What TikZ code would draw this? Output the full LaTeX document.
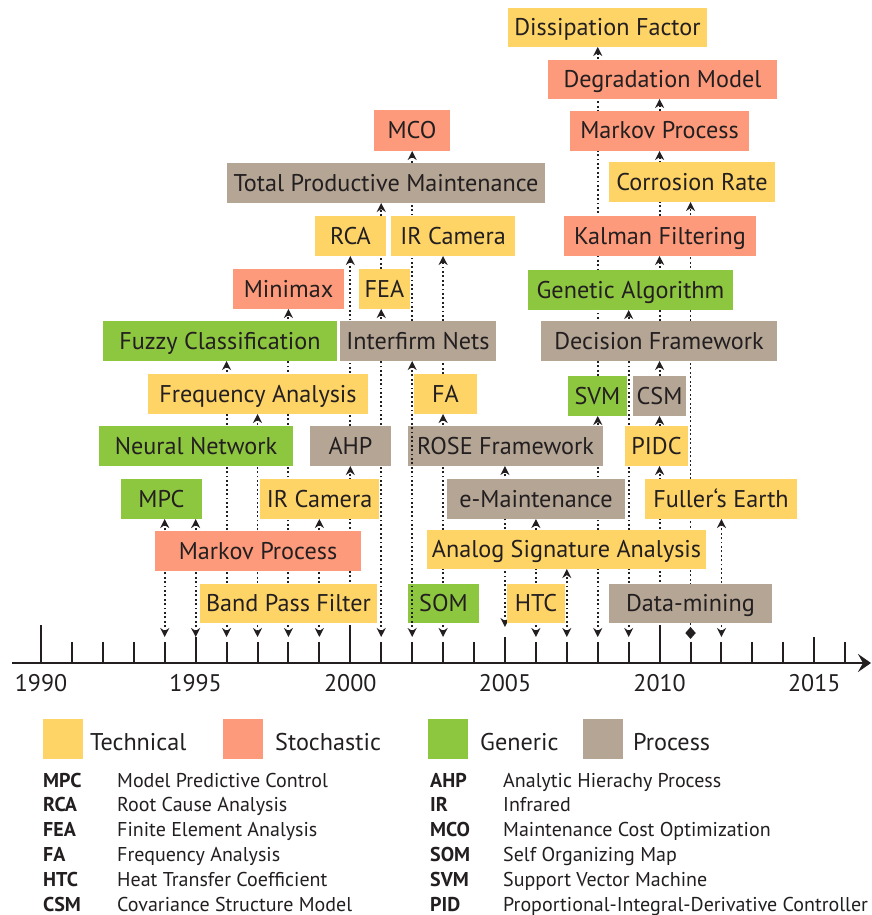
\documentclass[tikz,border=0pt]{standalone}
\usepackage{fontspec}
\setmainfont{PT Sans}
\usetikzlibrary{arrows.meta}
\definecolor{yel}{HTML}{FED467}
\definecolor{sal}{HTML}{FD9A7B}
\definecolor{grn}{HTML}{8DC63F}
\definecolor{prc}{HTML}{B4A594}
\definecolor{txt}{HTML}{231F20}
\tikzset{
  box/.style={inner sep=0pt, outer sep=0pt, text=txt,
    font=\fontsize{24.2}{27}\selectfont, text height=16pt, text depth=0pt},
  conn/.style={draw=txt, line width=1.9pt, dash pattern=on 1.9pt off 2.5pt},
  dconn/.style={conn, {Stealth[length=9pt,width=9pt]}-{Stealth[length=9pt,width=9pt]}},
  uconn/.style={conn, -{Stealth[length=9pt,width=9pt]}},
  tickline/.style={draw=txt, line width=2pt},
  yearlab/.style={text=txt, font=\fontsize{24}{27}\selectfont, anchor=base, inner sep=0pt},
  legtext/.style={text=txt, font=\fontsize{24.2}{27}\selectfont, anchor=base west, inner sep=0pt},
  legsq/.style={minimum width=40pt, minimum height=40pt, inner sep=0pt},
  abbr/.style={text=txt, font=\fontsize{20}{22}\selectfont\bfseries, anchor=base west, inner sep=0pt},
  desc/.style={text=txt, font=\fontsize{20}{22}\selectfont, anchor=base west, inner sep=0pt},
}
\newcommand\mkbox[7]{\node[box, fill=#2, minimum width={#5-#3}, minimum height={#6-#4}] (#1) at ({(#3+#5)/2},{(#4+#6)/2}) {#7};}
\begin{document}
\begin{tikzpicture}[x=1pt,y=-1pt]
\useasboundingbox (0,0) rectangle (872,915);
\fill[white] (0,0) rectangle (872,915);
% year coordinates
\foreach \yr in {1990,...,2016}{
  \pgfmathsetmacro\xx{41+(\yr-1990)*30.93}
  \coordinate (t\yr) at (\xx,663);
  \coordinate (a\yr) at (\xx,637);
}
\coordinate (b2005) at (504.95,627);
\coordinate (d2011) at (690.53,639);
% ticks
\foreach \yr in {1990,...,2016}{
  \pgfmathtruncatemacro\tmm{mod(\yr,10)}
  \pgfmathtruncatemacro\tff{mod(\yr,5)}
  \ifnum\tmm=0 \def\tky{625}\else\ifnum\tff=0 \def\tky{637}\else\def\tky{642}\fi\fi
  \draw[tickline] (t\yr) -- ++(0,{\tky-663});
}
\coordinate (axs) at (12,663);
\coordinate (axe) at (871,663);
\draw[draw=txt, line width=2.6pt, -{Stealth[length=13pt,width=18pt,inset=5pt]}] (axs) -- (axe);
% year labels
\foreach \yr in {1990,1995,2000,2005,2010,2015}{
  \node[yearlab] at ([yshift=-28pt]t\yr) {\yr};
}
% box positions (invisible, used by connectors)
\begin{scope}[opacity=0]
\mkbox{df}{yel}{508}{8}{707}{47}{}
\mkbox{dm}{sal}{548}{60}{777}{99}{}
\mkbox{mp2}{sal}{570}{111}{749}{151}{}
\mkbox{cr}{yel}{609}{162}{775}{202}{}
\mkbox{kf}{sal}{564}{216}{756}{256}{}
\mkbox{mco}{sal}{374}{110}{450}{151}{}
\mkbox{tpm}{prc}{227}{163}{545}{203}{}
\mkbox{rca}{yel}{315}{216}{386}{256}{}
\mkbox{irc2}{yel}{391}{216}{515}{256}{}
\mkbox{mmx}{sal}{233}{269}{344}{309}{}
\mkbox{fea}{yel}{359}{269}{410}{309}{}
\mkbox{fuz}{grn}{103}{321}{337}{361}{}
\mkbox{ifn}{prc}{340}{321}{496}{361}{}
\mkbox{frq}{yel}{148}{374}{368}{414}{}
\mkbox{fa}{yel}{414}{374}{477}{414}{}
\mkbox{ga}{grn}{528}{270}{733}{310}{}
\mkbox{dfw}{prc}{541}{321}{777}{361}{}
\mkbox{svm}{grn}{568}{376}{627}{416}{}
\mkbox{csm}{prc}{633}{376}{686}{416}{}
\mkbox{nn}{grn}{99}{426}{293}{466}{}
\mkbox{ahp}{prc}{310}{426}{391}{466}{}
\mkbox{rose}{prc}{408}{426}{603}{466}{}
\mkbox{pidc}{yel}{625}{426}{688}{466}{}
\mkbox{mpc}{grn}{121}{479}{202}{519}{}
\mkbox{irc}{yel}{260}{479}{379}{519}{}
\mkbox{emt}{prc}{447}{479}{625}{519}{}
\mkbox{fe}{yel}{645}{479}{797}{519}{}
\mkbox{mp}{sal}{155}{531}{361}{571}{}
\mkbox{asa}{yel}{427}{530}{706}{569}{}
\mkbox{bpf}{yel}{200}{584}{377}{623}{}
\mkbox{som}{grn}{408}{584}{479}{623}{}
\mkbox{htc}{yel}{507}{584}{565}{623}{}
\mkbox{dmn}{prc}{609}{584}{772}{623}{}
\end{scope}
% connectors
\draw[dconn] (a1994) -- (a1994 |- mpc.south);
\draw[dconn] (a1995) -- (a1995 |- mpc.south);
\draw[dconn] (a1996) -- (a1996 |- fuz.south);
\draw[dconn] (a1997) -- (a1997 |- frq.south);
\draw[dconn] (a1998) -- (a1998 |- mmx.south);
\draw[dconn] (a1999) -- (a1999 |- irc.south);
\draw[uconn] (a2000 |- bpf.center) -- (a2000 |- ahp.south);
\draw[uconn] (a2000 |- ahp.north) -- (a2000 |- rca.south);
\draw[dconn] (a2001) -- (a2001 |- fea.south);
\draw[uconn] (a2001 |- fea.north) -- (a2001 |- tpm.south);
\draw[uconn] (a2002 |- ifn.north) -- (a2002 |- mco.south);
\draw[dconn] (a2003) -- (a2003 |- fa.south);
\draw[uconn] (a2003 |- fa.north) -- (a2003 |- irc2.south);
\draw[dconn] (b2005) -- (b2005 |- rose.south);
\draw[dconn] (a2006) -- (a2006 |- emt.south);
\draw[dconn] (a2007) -- (a2007 |- asa.south);
\draw[dconn] (a2008) -- (a2008 |- svm.south);
\draw[uconn] (a2008 |- svm.north) -- (a2008 |- df.south);
\draw[dconn] (a2009) -- (a2009 |- ga.south);
\draw[uconn] (a2010 |- dmn.center) -- (a2010 |- pidc.south);
\draw[uconn] (a2010 |- pidc.north) -- (a2010 |- csm.south);
\draw[uconn] (a2010 |- csm.north) -- (a2010 |- dfw.south);
\draw[uconn] (a2010 |- dfw.north) -- (a2010 |- kf.south);
\draw[uconn] (a2010 |- kf.north) -- (a2010 |- mp2.south);
\draw[uconn] (a2010 |- mp2.north) -- (a2010 |- dm.south);
\draw[conn, {Triangle[length=6pt,width=10pt,sep=0pt] Triangle[length=6pt,width=10pt,reversed,sep=0pt]}-{Stealth[length=9pt,width=9pt]}] (d2011) -- (d2011 |- cr.south);
\draw[dconn] (a2012) -- (a2012 |- fe.south);
% visible boxes
\mkbox{df}{yel}{508}{8}{707}{47}{Dissipation Factor}
\mkbox{dm}{sal}{548}{60}{777}{99}{Degradation Model}
\mkbox{mp2}{sal}{570}{111}{749}{151}{Markov Process}
\mkbox{cr}{yel}{609}{162}{775}{202}{Corrosion Rate}
\mkbox{kf}{sal}{564}{216}{756}{256}{Kalman Filtering}
\mkbox{mco}{sal}{374}{110}{450}{151}{MCO}
\mkbox{tpm}{prc}{227}{163}{545}{203}{Total Productive Maintenance}
\mkbox{rca}{yel}{315}{216}{386}{256}{RCA}
\mkbox{irc2}{yel}{391}{216}{515}{256}{IR Camera}
\mkbox{mmx}{sal}{233}{269}{344}{309}{Minimax}
\mkbox{fea}{yel}{359}{269}{410}{309}{FEA}
\mkbox{fuz}{grn}{103}{321}{337}{361}{Fuzzy Classification}
\mkbox{ifn}{prc}{340}{321}{496}{361}{Interfirm Nets}
\mkbox{frq}{yel}{148}{374}{368}{414}{Frequency Analysis}
\mkbox{fa}{yel}{414}{374}{477}{414}{FA}
\mkbox{ga}{grn}{528}{270}{733}{310}{Genetic Algorithm}
\mkbox{dfw}{prc}{541}{321}{777}{361}{Decision Framework}
\mkbox{svm}{grn}{568}{376}{627}{416}{SVM}
\mkbox{csm}{prc}{633}{376}{686}{416}{CSM}
\mkbox{nn}{grn}{99}{426}{293}{466}{Neural Network}
\mkbox{ahp}{prc}{310}{426}{391}{466}{AHP}
\mkbox{rose}{prc}{408}{426}{603}{466}{ROSE Framework}
\mkbox{pidc}{yel}{625}{426}{688}{466}{PIDC}
\mkbox{mpc}{grn}{121}{479}{202}{519}{MPC}
\mkbox{irc}{yel}{260}{479}{379}{519}{IR Camera}
\mkbox{emt}{prc}{447}{479}{625}{519}{e-Maintenance}
\mkbox{fe}{yel}{645}{479}{797}{519}{Fuller‘s Earth}
\mkbox{mp}{sal}{155}{531}{361}{571}{Markov Process}
\mkbox{asa}{yel}{427}{530}{706}{569}{Analog Signature Analysis}
\mkbox{bpf}{yel}{200}{584}{377}{623}{Band Pass Filter}
\mkbox{som}{grn}{408}{584}{479}{623}{SOM}
\mkbox{htc}{yel}{507}{584}{565}{623}{HTC}
\mkbox{dmn}{prc}{609}{584}{772}{623}{Data-mining}
% line drawn over the boxes
\draw[dconn] (a2002) -- (a2002 |- ifn.south);
% legend
\node[legsq, fill=yel] (lg1) at (63,739) {};
\node[legtext] (lt1) at (90,750) {Technical};
\node[legsq, fill=sal] (lg2) at (243,739) {};
\node[legtext] (lt2) at (275,750) {Stochastic};
\node[legsq, fill=grn] (lg3) at (448,739) {};
\node[legtext] (lt3) at (480,750) {Generic};
\node[legsq, fill=prc] (lg4) at (603,739) {};
\node[legtext] (lt4) at (633,750) {Process};
% abbreviations
\node[abbr] (ab1) at (43,787) {MPC};
\node[desc] (ds1) at (117,787) {Model Predictive Control};
\node[abbr] (ab2) at (43,811.8) {RCA};
\node[desc] (ds2) at (117,811.8) {Root Cause Analysis};
\node[abbr] (ab3) at (43,836.6) {FEA};
\node[desc] (ds3) at (117,836.6) {Finite Element Analysis};
\node[abbr] (ab4) at (43,861.4) {FA};
\node[desc] (ds4) at (117,861.4) {Frequency Analysis};
\node[abbr] (ab5) at (43,886.2) {HTC};
\node[desc] (ds5) at (117,886.2) {Heat Transfer Coefficient};
\node[abbr] (ab6) at (43,911) {CSM};
\node[desc] (ds6) at (117,911) {Covariance Structure Model};
\node[abbr] (ab7) at (430,787) {AHP};
\node[desc] (ds7) at (503,787) {Analytic Hierachy Process};
\node[abbr] (ab8) at (430,811.8) {IR};
\node[desc] (ds8) at (503,811.8) {Infrared};
\node[abbr] (ab9) at (430,836.6) {MCO};
\node[desc] (ds9) at (503,836.6) {Maintenance Cost Optimization};
\node[abbr] (ab10) at (430,861.4) {SOM};
\node[desc] (ds10) at (503,861.4) {Self Organizing Map};
\node[abbr] (ab11) at (430,886.2) {SVM};
\node[desc] (ds11) at (503,886.2) {Support Vector Machine};
\node[abbr] (ab12) at (430,911) {PID};
\node[desc] (ds12) at (503,911) {Proportional-Integral-Derivative Controller};
\end{tikzpicture}
\end{document}
